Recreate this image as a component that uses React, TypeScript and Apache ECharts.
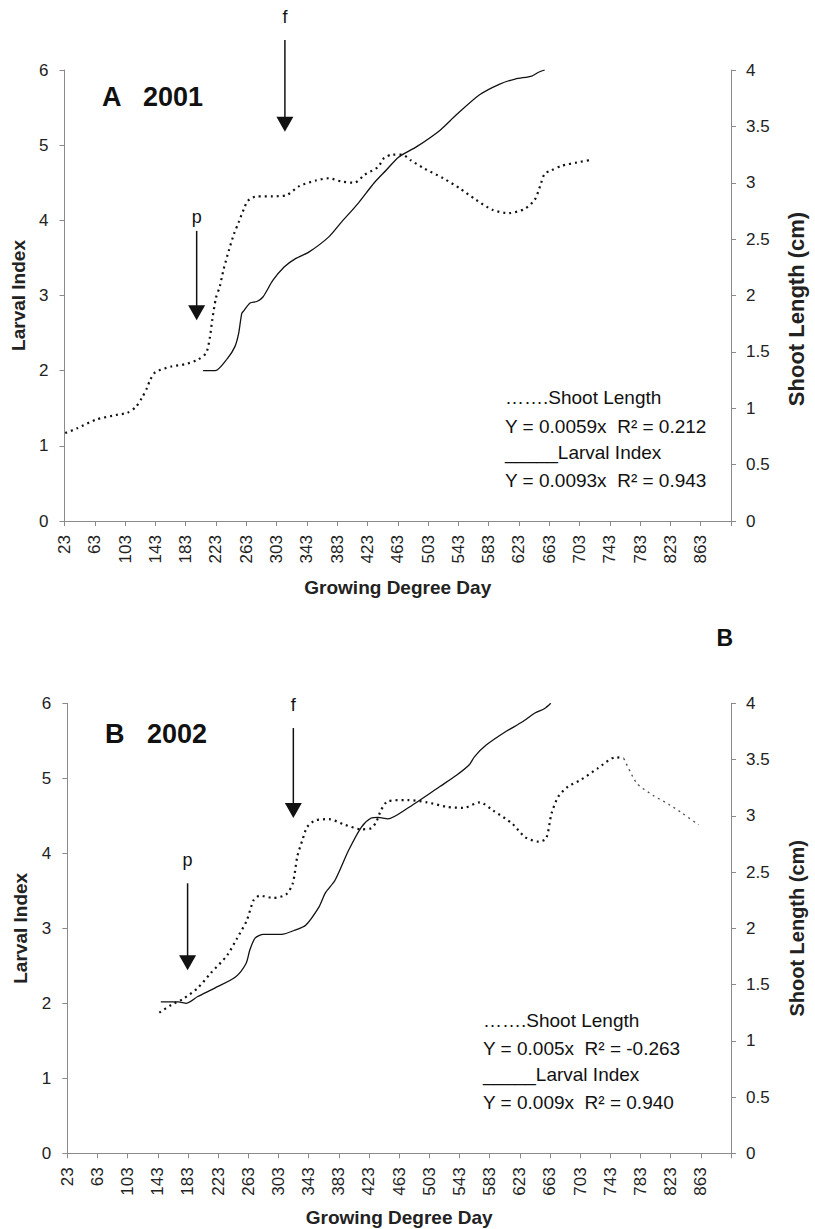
import React, { useEffect, useRef } from "react";
import * as echarts from "echarts";

// ---------- axis ticks ----------
const xTickValues = [23, 63, 103, 143, 183, 223, 263, 303, 343, 383, 423, 463, 503, 543, 583, 623, 663, 703, 743, 783, 823, 863, 903];
const xLabelValues = [23, 63, 103, 143, 183, 223, 263, 303, 343, 383, 423, 463, 503, 543, 583, 623, 663, 703, 743, 783, 823, 863];

// ---------- Panel A (2001) ----------
const larvalGddA = [206, 222, 238, 248, 253, 257, 260, 268, 277, 285, 298, 313, 328, 346, 372, 389, 411, 432, 448, 464, 488, 519, 540, 571, 597, 618, 640, 649, 657];
const larvalA = [2.0, 2.0, 2.16, 2.32, 2.5, 2.76, 2.8, 2.9, 2.92, 2.98, 3.2, 3.38, 3.49, 3.58, 3.78, 3.98, 4.23, 4.5, 4.67, 4.84, 4.98, 5.2, 5.4, 5.67, 5.81, 5.88, 5.92, 5.97, 6.0];

const shootGddA = [24, 39, 65, 91, 106, 117, 125, 132, 136, 143, 164, 182, 199, 210, 215, 218, 223, 228, 233, 240, 247, 253, 260, 265, 277, 298, 316, 333, 355, 372, 389, 406, 419, 437, 445, 456, 469, 480, 497, 523, 545, 566, 588, 610, 631, 644, 651, 657, 666, 679, 700, 716];
const shootA = [0.78, 0.82, 0.9, 0.94, 0.96, 1.01, 1.09, 1.18, 1.25, 1.32, 1.37, 1.39, 1.43, 1.49, 1.63, 1.78, 1.98, 2.08, 2.23, 2.4, 2.55, 2.65, 2.77, 2.84, 2.88, 2.88, 2.89, 2.97, 3.02, 3.04, 3.01, 3.0, 3.07, 3.14, 3.22, 3.25, 3.25, 3.2, 3.13, 3.04, 2.95, 2.85, 2.76, 2.73, 2.77, 2.85, 2.97, 3.08, 3.11, 3.15, 3.18, 3.2];

// ---------- Panel B (2002) ----------
const larvalGddB = [147, 170, 181, 196, 218, 246, 260, 265, 272, 283, 307, 326, 339, 357, 365, 378, 396, 413, 426, 435, 448, 474, 517, 539, 556, 563, 578, 604, 626, 643, 656, 664];
const larvalB = [2.02, 2.02, 2.0, 2.09, 2.2, 2.35, 2.53, 2.71, 2.87, 2.92, 2.92, 2.98, 3.04, 3.29, 3.47, 3.64, 4.04, 4.35, 4.47, 4.48, 4.46, 4.6, 4.89, 5.04, 5.18, 5.29, 5.44, 5.62, 5.75, 5.87, 5.93, 6.0];

const shootGddB = [145, 161, 176, 196, 213, 235, 248, 261, 270, 278, 296, 313, 322, 328, 335, 341, 352, 370, 391, 413, 426, 433, 439, 448, 474, 500, 526, 548, 570, 587, 613, 630, 648, 658, 665, 674, 687, 704, 726, 750, 761];
const shootB = [1.25, 1.32, 1.37, 1.47, 1.6, 1.76, 1.91, 2.07, 2.25, 2.29, 2.27, 2.3, 2.4, 2.64, 2.79, 2.9, 2.96, 2.97, 2.92, 2.88, 2.89, 2.95, 3.05, 3.13, 3.14, 3.12, 3.08, 3.07, 3.12, 3.05, 2.93, 2.81, 2.77, 2.8, 3.02, 3.17, 3.26, 3.32, 3.42, 3.52, 3.51];
// lighter tail segment of the 2002 shoot-length curve
const shootTailGddB = [761, 778, 800, 821, 839, 860];
const shootTailB = [3.51, 3.29, 3.18, 3.1, 3.02, 2.92];

// ---------- annotations (arrows p / f) ----------
const arrowLabels = ["f", "p"];
const arrowGddA = [314, 197.5];
const arrowLabelYA = [6.71, 4.04];
const arrowTopA = [6.4, 3.86];
const arrowTipA = [5.18, 2.67];
const arrowGddB = [322.7, 182.5];
const arrowLabelYB = [5.98, 3.91];
const arrowTopB = [5.67, 3.6];
const arrowTipB = [4.47, 2.44];

const legendA = ["…….Shoot Length", "Y = 0.0059x  R² = 0.212", "_____Larval Index", "Y = 0.0093x  R² = 0.943"];
const legendB = ["…….Shoot Length", "Y = 0.005x  R² = -0.263", "_____Larval Index", "Y = 0.009x  R² = 0.940"];

const FONT = "'Liberation Sans', Arial, sans-serif";
const AXIS_GRAY = "#8a8a8a";

const zip = (xs: number[], ys: number[]) => xs.map((x, i) => [x, ys[i]]);

function xAxisFor(gridIndex: number, nameGap: number) {
  return {
    type: "value",
    gridIndex,
    min: 23,
    max: 903,
    name: "Growing Degree Day",
    nameLocation: "middle",
    nameGap,
    nameTextStyle: { fontFamily: FONT, fontWeight: "bold", fontSize: 19, color: "#222" },
    axisLine: { show: true, onZero: false, lineStyle: { color: AXIS_GRAY, width: 1 } },
    axisTick: { show: true, length: 5, customValues: xTickValues, lineStyle: { color: AXIS_GRAY } },
    axisLabel: { rotate: 90, margin: 14, fontFamily: FONT, fontSize: 17, color: "#222", customValues: xLabelValues },
    splitLine: { show: false },
  };
}

function yLeftFor(gridIndex: number, nameGap: number) {
  return {
    type: "value",
    gridIndex,
    position: "left",
    min: 0,
    max: 6,
    interval: 1,
    name: "Larval Index",
    nameLocation: "middle",
    nameRotate: 90,
    nameGap,
    nameTextStyle: { fontFamily: FONT, fontWeight: "bold", fontSize: 19, color: "#222" },
    axisLine: { show: true, lineStyle: { color: AXIS_GRAY, width: 1 } },
    axisTick: { show: true, length: 5, lineStyle: { color: AXIS_GRAY } },
    axisLabel: { margin: 16, fontFamily: FONT, fontSize: 17, color: "#222" },
    splitLine: { show: false },
  };
}

function yRightFor(gridIndex: number, nameGap: number, fontSize: number, padding: number[]) {
  return {
    type: "value",
    gridIndex,
    position: "right",
    min: 0,
    max: 4,
    interval: 0.5,
    name: "Shoot Length (cm)",
    nameLocation: "middle",
    nameRotate: 90,
    nameGap,
    nameTextStyle: { fontFamily: FONT, fontWeight: "bold", fontSize, color: "#222", padding },
    axisLine: { show: true, lineStyle: { color: AXIS_GRAY, width: 1 } },
    axisTick: { show: true, length: 5, lineStyle: { color: AXIS_GRAY } },
    axisLabel: { margin: 15, fontFamily: FONT, fontSize: 17, color: "#222" },
    splitLine: { show: false },
  };
}

const solidStyle = { color: "#111", width: 1.3, type: "solid" };
const dotStyle = { color: "#111", width: 2.2, type: [2, 4] };
const tailStyle = { color: "#555", width: 1.4, type: [2, 4] };

export default function App() {
  const ref = useRef<HTMLDivElement>(null);

  useEffect(() => {
    if (!ref.current) return;
    const chart = echarts.init(ref.current, null, { renderer: "svg" });
    chart.setOption({
      animation: false,
      backgroundColor: "#ffffff",
      grid: [
        { left: 64.5, right: 72.5, top: 70, bottom: 708 },
        { left: 67.3, right: 72.7, top: 703.3, bottom: 75.7 },
      ],
      xAxis: [xAxisFor(0, 57), xAxisFor(1, 55)],
      yAxis: [yLeftFor(0, 36), yRightFor(0, 54, 22, [0, 27, 0, 0]), yLeftFor(1, 37), yRightFor(1, 56, 20, [0, 0, 0, 0])],
      series: [
        { name: "Shoot Length 2001", type: "line", xAxisIndex: 0, yAxisIndex: 1, data: zip(shootGddA, shootA), smooth: 0.25, showSymbol: false, lineStyle: dotStyle },
        { name: "Larval Index 2001", type: "line", xAxisIndex: 0, yAxisIndex: 0, data: zip(larvalGddA, larvalA), smooth: 0.25, showSymbol: false, lineStyle: solidStyle },
        { name: "Shoot Length 2002", type: "line", xAxisIndex: 1, yAxisIndex: 3, data: zip(shootGddB, shootB), smooth: 0.25, showSymbol: false, lineStyle: dotStyle },
        { name: "Shoot Length 2002 (tail)", type: "line", xAxisIndex: 1, yAxisIndex: 3, data: zip(shootTailGddB, shootTailB), smooth: 0.25, showSymbol: false, lineStyle: tailStyle },
        { name: "Larval Index 2002", type: "line", xAxisIndex: 1, yAxisIndex: 2, data: zip(larvalGddB, larvalB), smooth: 0.25, showSymbol: false, lineStyle: solidStyle },
      ],
    });

    const graphics: any[] = [];
    const addArrows = (xIdx: number, yIdx: number, gdds: number[], labY: number[], tops: number[], tips: number[]) => {
      gdds.forEach((g, i) => {
        const lab = chart.convertToPixel({ xAxisIndex: xIdx, yAxisIndex: yIdx }, [g, labY[i]]) as number[];
        const top = chart.convertToPixel({ xAxisIndex: xIdx, yAxisIndex: yIdx }, [g, tops[i]]) as number[];
        const tip = chart.convertToPixel({ xAxisIndex: xIdx, yAxisIndex: yIdx }, [g, tips[i]]) as number[];
        const x = top[0];
        graphics.push({
          type: "text",
          x: lab[0],
          y: lab[1],
          style: { text: arrowLabels[i], font: `18px ${FONT}`, fill: "#111", align: "center", verticalAlign: "middle" },
        });
        graphics.push({
          type: "line",
          shape: { x1: x, y1: top[1], x2: x, y2: tip[1] - 14 },
          style: { stroke: "#111", lineWidth: 1.5 },
        });
        graphics.push({
          type: "polygon",
          shape: { points: [[x - 8.5, tip[1] - 15], [x + 8.5, tip[1] - 15], [x, tip[1]]] },
          style: { fill: "#111" },
        });
      });
    };
    addArrows(0, 0, arrowGddA, arrowLabelYA, arrowTopA, arrowTipA);
    addArrows(1, 2, arrowGddB, arrowLabelYB, arrowTopB, arrowTipB);

    const legendYA = [397.5, 426.3, 452.8, 480.3];
    const legendYB = [1020, 1048.3, 1074.5, 1102.3];
    legendA.forEach((t, i) =>
      graphics.push({ type: "text", x: 505, y: legendYA[i], style: { text: t, font: `19px ${FONT}`, fill: "#111", align: "left", verticalAlign: "middle" } })
    );
    legendB.forEach((t, i) =>
      graphics.push({ type: "text", x: 483, y: legendYB[i], style: { text: t, font: `19px ${FONT}`, fill: "#111", align: "left", verticalAlign: "middle" } })
    );

    graphics.push({ type: "text", x: 102, y: 97, style: { text: "A   2001", font: `bold 27px ${FONT}`, fill: "#111", align: "left", verticalAlign: "middle" } });
    graphics.push({ type: "text", x: 105, y: 733.5, style: { text: "B   2002", font: `bold 27px ${FONT}`, fill: "#111", align: "left", verticalAlign: "middle" } });
    graphics.push({ type: "text", x: 724.7, y: 638.3, style: { text: "B", font: `bold 23px ${FONT}`, fill: "#111", align: "center", verticalAlign: "middle" } });

    chart.setOption({ graphic: graphics });

    return () => chart.dispose();
  }, []);

  return <div ref={ref} style={{ position: "absolute", left: 0, top: 0, width: 815, height: 1229 }} />;
}
